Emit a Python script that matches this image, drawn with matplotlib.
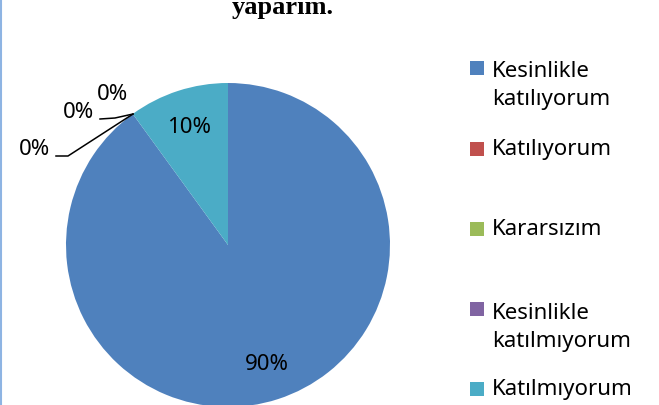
import matplotlib
matplotlib.use("Agg")
import matplotlib.pyplot as plt
from matplotlib.patches import Rectangle
from matplotlib.lines import Line2D

# ── Data ─────────────────────────────────────────────────────────
labels  = ["Kesinlikle\nkatılıyorum", "Katılıyorum", "Kararsızım",
           "Kesinlikle\nkatılmıyorum", "Katılmıyorum"]
values  = [90, 0, 0, 0, 10]
colors  = ["#4F81BD", "#C0504D", "#9BBB59", "#8064A2", "#4BACC6"]
title   = "yaparım."

W, H = 659, 406
plt.rcParams["font.family"] = ["Noto Sans", "DejaVu Sans"]

fig = plt.figure(figsize=(W / 100, H / 100), dpi=100)
ax = fig.add_axes([0, 0, 1, 1])
ax.set_xlim(0, W)
ax.set_ylim(0, H)
ax.set_aspect("equal")
ax.axis("off")

# pie in pixel coordinates (y measured from bottom)
cx, cy, r = 228, H - 246, 162
wedges, texts, autotexts = ax.pie(
    values, colors=colors, startangle=90, counterclock=False,
    center=(cx, cy), radius=r, pctdistance=0.77,
    autopct=lambda p: f"{p:.0f}%" if p > 0.5 else "",
    wedgeprops=dict(linewidth=0), textprops=dict(fontsize=16, color="black"),
    frame=True)
ax.set_xlim(0, W)
ax.set_ylim(0, H)
ax.axis("off")

# zero-percent labels with leader lines, stacked left of the wedge edge
zero_idx = [i for i, v in enumerate(values) if v == 0]
edge = (133, H - 115)
zero_pos = [(34, H - 150), (78, H - 113), (112, H - 95)]
leaders = [[(56, H - 157), (68, H - 157), edge],
           [(100, H - 120), (115, H - 119), edge],
           None]
for k, i in enumerate(reversed(zero_idx)):
    x, y = zero_pos[k]
    ax.text(x, y, f"{values[i]}%", ha="center", va="center", fontsize=16)
    if leaders[k]:
        xs, ys = zip(*leaders[k])
        ax.plot(xs, ys, color="black", lw=1.1)

# legend drawn manually to match the spread-out layout
leg_square_y = [69, 150, 230, 310, 390]
leg_text_y   = [85.5, 150, 230, 327.5, 390]
for lab, col, sy, ty in zip(labels, colors, leg_square_y, leg_text_y):
    ax.add_patch(Rectangle((470, H - sy - 7), 14, 14, color=col, lw=0))
    ax.text(492, H - ty, lab, ha="left", va="center", fontsize=16,
            linespacing=1.45)

fig.text(283 / W, 1 - 14 / H, title, ha="center", va="baseline",
         fontsize=19, fontweight="bold", family="Liberation Serif")

fig.add_artist(Line2D([0.001, 0.001], [0, 1], color="#8EB4E3", lw=1.5))

fig.savefig("out.png", dpi=100)
